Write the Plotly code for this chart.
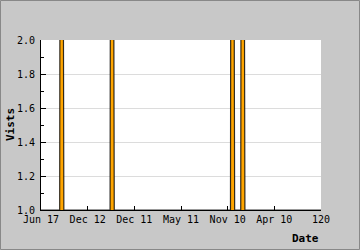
import plotly.graph_objects as go

# data: x positions in axis units (tick index), visits
x_vals = [0.0, 0.40, 0.43, 0.49, 1.48, 1.51, 1.57, 4.06, 4.09, 4.15, 4.28, 4.31, 4.37, 6.0]
visits = [1, 1, 8, 1, 1, 8, 1, 1, 8, 1, 1, 8, 1, 1]
tick_vals = [0, 1, 2, 3, 4, 5, 6]
tick_text = ["Jun 17", "Dec 12", "Dec 11", "May 11", "Nov 10", "Apr 10", "120"]
y_ticks = [1.0, 1.2, 1.4, 1.6, 1.8, 2.0]

L, R, T, B = 41, 39, 40, 40
W, H = 360, 250
pw, ph = W - L - R, H - T - B
font = "DejaVu Sans Mono"

fig = go.Figure()
fig.add_trace(go.Scatter(
    x=x_vals, y=visits, mode="lines", fill="tozeroy",
    fillcolor="#ffa500", line=dict(color="rgba(0,0,0,0.8)", width=1.2),
    hoverinfo="skip", showlegend=False))

fig.update_layout(
    width=W, height=H, margin=dict(l=L, r=R, t=T, b=B),
    paper_bgcolor="#c8c8c8", plot_bgcolor="white",
    font=dict(family=font, size=10, color="black"),
    xaxis=dict(range=[0, 6], tickvals=tick_vals, ticktext=tick_text,
               ticks="inside", ticklen=4, tickcolor="black", automargin=False,
               showgrid=False, zeroline=False, showline=True,
               linecolor="black", linewidth=1, tickfont=dict(family=font, size=10)),
    yaxis=dict(range=[1, 2], tickvals=y_ticks, ticktext=["%.1f" % v for v in y_ticks],
               ticks="inside", ticklen=5, tickcolor="black", automargin=False,
               ticklabelstandoff=3,
               minor=dict(dtick=0.1, tick0=1.0, ticks="inside", ticklen=3, tickcolor="black", showgrid=False),
               showgrid=True, gridcolor="#dcdcdc", zeroline=False, showline=True,
               linecolor="black", linewidth=1, tickfont=dict(family=font, size=10)),
)
fig.add_annotation(text="<b>Vists</b>", xref="paper", yref="paper", x=(10 - L) / pw, y=0.5,
                   xanchor="center", yanchor="middle", textangle=-90, showarrow=False,
                   font=dict(family=font, size=11))
fig.add_annotation(text="<b>Date</b>", xref="paper", yref="paper", x=1.0, y=-0.12,
                   xanchor="right", yanchor="top", showarrow=False,
                   font=dict(family=font, size=11))
fig.add_shape(type="rect", xref="paper", yref="paper",
              x0=(-L + 0.5) / pw, x1=(W - L - 0.5) / pw,
              y0=(-B + 0.5) / ph, y1=(H - B - 0.5) / ph,
              line=dict(color="#888888", width=1), fillcolor="rgba(0,0,0,0)", layer="above")
fig.write_html("out.html")
